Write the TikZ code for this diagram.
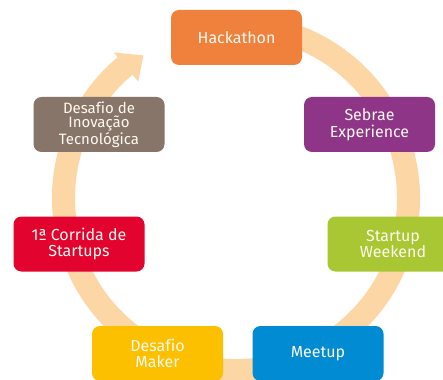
\documentclass[tikz,border=0pt]{standalone}
\usepackage{fontspec}
\setmainfont{Fira Sans}[Ligatures=NoCommon]
\usetikzlibrary{calc}
\definecolor{ringc}{HTML}{FDD6A6}
\definecolor{orangec}{HTML}{F0813D}
\definecolor{brownc}{HTML}{877569}
\definecolor{purplec}{HTML}{8E3588}
\definecolor{redc}{HTML}{E3032F}
\definecolor{greenc}{HTML}{A9C732}
\definecolor{yellowc}{HTML}{FCC000}
\definecolor{bluec}{HTML}{008BD3}
\definecolor{txtc}{HTML}{FFF9F0}
\tikzset{
  stagebox/.style={rounded corners=8pt, minimum width=131pt, minimum height=55pt,
    text=txtc, align=center, inner sep=2pt, font=\fontsize{16}{16.5}\selectfont},
  smalltxt/.style={font=\fontsize{15}{14.5}\selectfont}
}
\begin{document}
\begin{tikzpicture}[x=1pt,y=-1pt]
\clip (0,0) rectangle (443,379);
\fill[white] (0,0) rectangle (443,379);
\coordinate (c) at (236,198);
% ring
\draw[ringc, line width=23pt] (c) ++(-100:172.5) arc[start angle=-100, end angle=231, radius=172.5];
\coordinate (a1) at ($(c)+(-130:152)$);
\coordinate (a2) at ($(c)+(-130:190)$);
\coordinate (tip) at ($(c)+(-123:170)$);
\fill[ringc] (a1) -- (a2) -- (tip) -- cycle;
% boxes
\node[stagebox, fill=orangec] (hack) at (236.5,37.5) {Hackathon};
\node[stagebox, fill=brownc, smalltxt] (inov) at (99,124.5) {Desafio de\\Inovação\\Tecnológica};
\node[stagebox, fill=purplec] (sebrae) at (369.5,124.5) {Sebrae\\Experience};
\node[stagebox, fill=redc] (corrida) at (79,244) {1ª Corrida de\\Startups};
\node[stagebox, fill=greenc] (weekend) at (393,244) {Startup\\Weekend};
\node[stagebox, fill=yellowc] (maker) at (157.5,353.5) {Desafio\\Maker};
\node[stagebox, fill=bluec] (meetup) at (318,353.5) {Meetup};
\end{tikzpicture}
\end{document}
